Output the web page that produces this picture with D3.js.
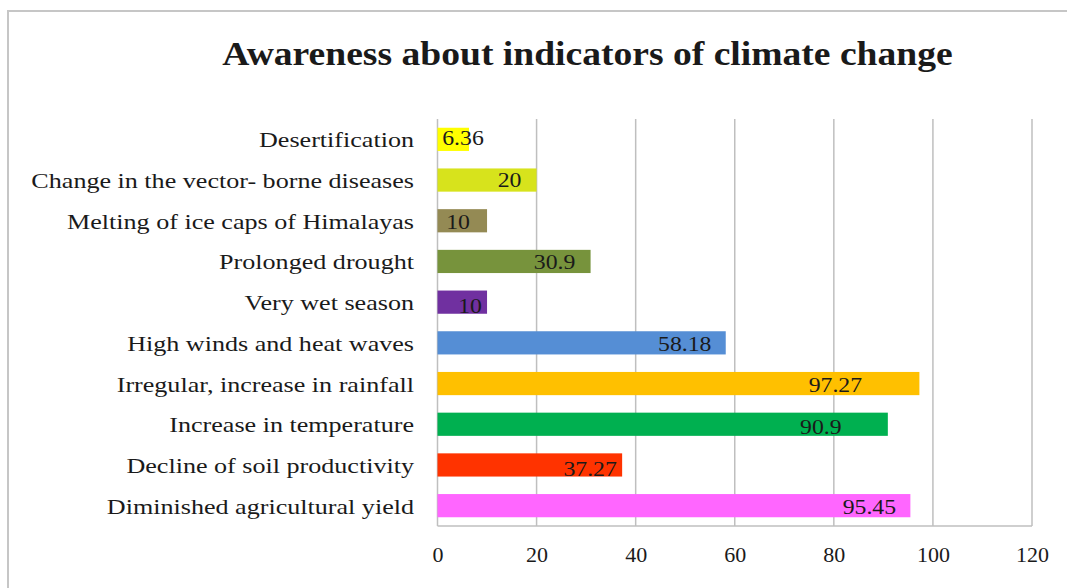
<!DOCTYPE html>
<html><head><meta charset="utf-8">
<script src="https://cdn.jsdelivr.net/npm/d3@7"></script>
<style>
html,body{margin:0;padding:0;background:#fff;}
svg text{font-family:"Liberation Serif","Times New Roman",serif;fill:#1a1a1a;}
</style></head>
<body><svg id="chart" width="1067" height="588"></svg>
<script>
const title = "Awareness about indicators of climate change";
const categories = [
  "Desertification",
  "Change in the vector- borne diseases",
  "Melting of ice caps of Himalayas",
  "Prolonged drought",
  "Very wet season",
  "High winds and heat waves",
  "Irregular, increase in rainfall",
  "Increase in temperature",
  "Decline of soil productivity",
  "Diminished agricultural yield"
];
const values = [6.36, 20, 10, 30.9, 10, 58.18, 97.27, 90.9, 37.27, 95.45];
const valueLabels = ["6.36", "20", "10", "30.9", "10", "58.18", "97.27", "90.9", "37.27", "95.45"];
const colors = ["#ffff00", "#d7e31c", "#948a54", "#77933c", "#7030a0", "#558ed5", "#ffc000", "#00b050", "#ff3300", "#ff66ff"];
const xTicks = [0, 20, 40, 60, 80, 100, 120];

// layout: label centre offsets (px) from bar end, as placed in the original
const labelDx = [-6, -27, -29, -36, -17, -41, -84, -67, -32, -41];
const labelDy = [6, 7, 8, 8, 11, 8, 8.5, 10, 11, 8];

const svg = d3.select("#chart");
const m = {left: 437.5, right: 1032, top: 119, bottom: 526};

// outer frame
svg.append("rect").attr("x", 8).attr("y", 11).attr("width", 1100).attr("height", 700)
  .attr("fill", "none").attr("stroke", "#c6c6c6").attr("stroke-width", 2);

const x = d3.scaleLinear().domain([0, 120]).range([m.left, m.right]);
const y = d3.scaleBand().domain(categories).range([m.top, m.bottom]).paddingInner(0.43).paddingOuter(0.215);

// gridlines
svg.append("g").selectAll("line").data(xTicks).join("line")
  .attr("x1", d => x(d)).attr("x2", d => x(d))
  .attr("y1", m.top).attr("y2", m.bottom)
  .attr("stroke", "#bfbfbf").attr("stroke-width", 1.5);

// bottom axis line
svg.append("line").attr("x1", m.left).attr("x2", m.right).attr("y1", m.bottom).attr("y2", m.bottom)
  .attr("stroke", "#bfbfbf").attr("stroke-width", 1.5);

// x axis labels
const xAxis = d3.axisBottom(x).tickValues(xTicks).tickSize(0).tickPadding(0).tickFormat(d3.format("d"));
const gx = svg.append("g").attr("transform", `translate(0,${m.bottom})`).call(xAxis);
gx.select(".domain").remove();
gx.selectAll("text").attr("font-size", 22).attr("dy", null).attr("y", 35.5)
  .style("font-family", '"Liberation Serif",serif').attr("fill", "#1a1a1a");

// bars
svg.append("g").selectAll("rect").data(values).join("rect")
  .attr("x", x(0))
  .attr("y", (d, i) => y(categories[i]))
  .attr("width", d => x(d) - x(0))
  .attr("height", y.bandwidth())
  .attr("fill", (d, i) => colors[i]);

// category labels (original text is horizontally stretched)
const catSx = 1.186;
svg.append("g").selectAll("text").data(categories).join("text")
  .attr("transform", d => `translate(${m.left - 23.5},${y(d) + y.bandwidth() / 2 + 8}) scale(${catSx},1)`)
  .attr("text-anchor", "end")
  .attr("font-size", 22)
  .text(d => d);

// value labels
const valSx = 1.08;
svg.append("g").selectAll("text").data(values).join("text")
  .attr("transform", (d, i) => `translate(${x(d) + labelDx[i]},${y(categories[i]) + y.bandwidth() / 2 + labelDy[i]}) scale(${valSx},1)`)
  .attr("text-anchor", "middle")
  .attr("font-size", 22)
  .text((d, i) => valueLabels[i]);

// title
svg.append("text").attr("transform", "translate(587.5,65) scale(1.106,1)").attr("text-anchor", "middle")
  .attr("font-size", 34).attr("font-weight", "bold").attr("fill", "#000")
  .text(title);
</script></body></html>
